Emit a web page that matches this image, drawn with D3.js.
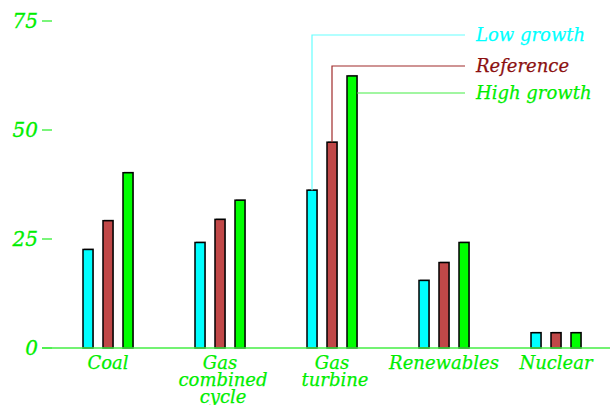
<!DOCTYPE html>
<html>
<head>
<meta charset="utf-8">
<script src="https://cdn.jsdelivr.net/npm/d3@7"></script>
<style>
  html, body { margin: 0; padding: 0; background: #fff; }
  svg { display: block; }
  text { font-family: "DejaVu Serif", serif; font-style: italic; }
</style>
</head>
<body>
<svg id="chart" width="610" height="405"></svg>
<script>
const categories = ["Coal", "Gas\ncombined\ncycle", "Gas\nturbine", "Renewables", "Nuclear"];
const seriesNames = ["Low growth", "Reference", "High growth"];
const lowGrowth  = [22.6, 24.2, 36.2, 15.5, 3.5];
const reference  = [29.2, 29.5, 47.2, 19.6, 3.5];
const highGrowth = [40.2, 33.9, 62.4, 24.2, 3.5];
const yTicks = [0, 25, 50, 75];

const seriesValues = [lowGrowth, reference, highGrowth];
const fillColors = ["#00ffff", "#c04848", "#00ff00"];
const textColors = ["#00ffff", "#8b1010", "#00ee00"];
const leaderColors = ["#66ffff", "#a02a2a", "#44ee44"];
const labelGreen = "#00ee00";

const svg = d3.select("#chart");
const y = d3.scaleLinear().domain([0, 75]).range([348, 21]);
const x0 = d3.scaleBand().domain(categories).range([52, 612]);
const x1 = d3.scalePoint().domain(seriesNames).range([-20, 20]);
const barW = 10;
const center = c => x0(c) + x0.bandwidth() / 2;

// Y axis ticks & labels
const yAxis = svg.append("g");
yTicks.forEach(t => {
  yAxis.append("line")
    .attr("x1", 42).attr("x2", 52)
    .attr("y1", y(t)).attr("y2", y(t))
    .attr("stroke", "#22ee22").attr("stroke-width", 1.2);
  yAxis.append("text")
    .attr("x", 38).attr("y", y(t)).attr("dy", "0.36em")
    .attr("text-anchor", "end")
    .attr("font-size", 20)
    .attr("fill", labelGreen)
    .attr("stroke", labelGreen).attr("stroke-width", 0.3)
    .text(t);
});

// Bars
const data = [];
categories.forEach((c, ci) => {
  seriesNames.forEach((s, si) => {
    data.push({ c, s, si, v: seriesValues[si][ci] });
  });
});
const bars = svg.append("g");
bars.selectAll("rect.shadow").data(data).join("rect")
  .attr("class", "shadow")
  .attr("x", d => center(d.c) + x1(d.s) - barW / 2 + 1)
  .attr("y", d => y(d.v) - 1)
  .attr("width", barW)
  .attr("height", d => y(0) - y(d.v) + 1)
  .attr("fill", "#aaaaaa");
bars.selectAll("rect.bar").data(data).join("rect")
  .attr("class", "bar")
  .attr("x", d => center(d.c) + x1(d.s) - barW / 2)
  .attr("y", d => y(d.v))
  .attr("width", barW)
  .attr("height", d => y(0) - y(d.v))
  .attr("fill", d => fillColors[d.si])
  .attr("stroke", "#000")
  .attr("stroke-width", 1.5);

// X axis line
svg.append("line")
  .attr("x1", 42).attr("x2", 610)
  .attr("y1", y(0)).attr("y2", y(0))
  .attr("stroke", "#44ee44").attr("stroke-width", 1.5);

// Category labels
categories.forEach(c => {
  const lines = c.split("\n");
  const t = svg.append("text")
    .attr("text-anchor", "middle")
    .attr("font-size", 18)
    .attr("fill", labelGreen)
    .attr("stroke", labelGreen).attr("stroke-width", 0.25);
  lines.forEach((ln, i) => {
    t.append("tspan")
      .attr("x", center(c) + (i > 0 ? 3 : 0))
      .attr("y", 369 + i * 17)
      .text(ln);
  });
});

// Legend with leader lines from the Gas turbine bars
const legendCat = categories[2];
const legendY = [35, 66, 93];
const legendLineEnd = 465;
const legendTextX = 476;
seriesNames.forEach((s, si) => {
  const v = seriesValues[si][2];
  const bx = center(legendCat) + x1(s);
  const ly = legendY[si];
  let path;
  if (y(v) > ly + 2) {
    path = `M${bx},${y(v)} V${ly} H${legendLineEnd}`;
  } else {
    path = `M${bx + barW / 2},${ly} H${legendLineEnd}`;
  }
  svg.append("path")
    .attr("d", path)
    .attr("fill", "none")
    .attr("stroke", leaderColors[si])
    .attr("stroke-width", 1.2);
  svg.append("text")
    .attr("x", legendTextX).attr("y", ly + 5.5)
    .attr("font-size", 18)
    .attr("fill", textColors[si])
    .attr("stroke", textColors[si]).attr("stroke-width", 0.25)
    .text(s);
});
</script>
</body>
</html>
